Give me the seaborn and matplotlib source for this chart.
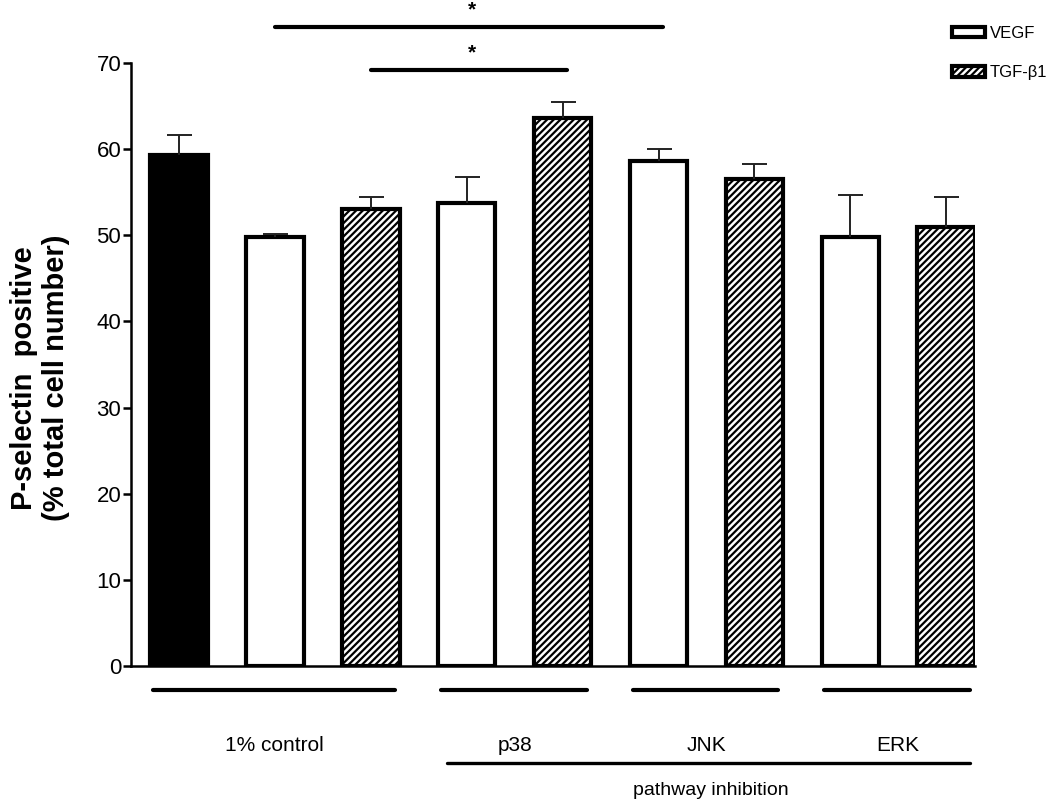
import numpy as np
import matplotlib
matplotlib.use("Agg")
import matplotlib.pyplot as plt
import seaborn as sns
from matplotlib.patches import Patch

sns.set_style("white")
plt.rcParams["font.family"] = ["Liberation Sans", "DejaVu Sans"]
plt.rcParams["hatch.linewidth"] = 1.6
for k in ["text.color", "axes.labelcolor", "xtick.color", "ytick.color"]:
    plt.rcParams[k] = "black"

# bar data (% P-selectin positive cells, mean and SEM)
conditions = ["control", "1% VEGF", "1% TGF-b1", "p38 VEGF", "p38 TGF-b1",
              "JNK VEGF", "JNK TGF-b1", "ERK VEGF", "ERK TGF-b1"]
means = [59.3, 49.8, 53.0, 53.8, 63.6, 58.6, 56.5, 49.8, 51.0]
sem = [2.3, 0.3, 1.4, 3.0, 1.9, 1.4, 1.8, 4.9, 3.4]
styles = ["black", "vegf", "tgf", "vegf", "tgf", "vegf", "tgf", "vegf", "tgf"]

groups = ["1% control", "p38", "JNK", "ERK"]
group_bars = [(0, 2), (3, 4), (5, 6), (7, 8)]
pathway_label = "pathway inhibition"
pathway_bars = (3, 8)

# significance brackets: (first bar, second bar, line height)
sig_pairs = [(1, 5, 74.2), (2, 4, 69.2)]

fig = plt.figure(figsize=(10.5, 8.06), dpi=100)
ax = fig.add_axes([131 / 1050, 1 - 666 / 806, (975 - 131) / 1050, (666 - 63) / 806])

sns.barplot(x=conditions, y=means, order=conditions, width=0.6, color="white",
            edgecolor="black", linewidth=3, errorbar=None, ax=ax, saturation=1)

for patch, st in zip(ax.patches, styles):
    if st == "black":
        patch.set_facecolor("black")
    elif st == "tgf":
        patch.set_facecolor("white")
        patch.set_hatch("/////")
    else:
        patch.set_facecolor("white")

x = np.arange(len(conditions))
eb = ax.errorbar(x, means, yerr=[np.zeros(len(sem)), sem], fmt="none", ecolor="#222222",
                 elinewidth=1.4, capsize=9, capthick=1.4, zorder=1)
# keep only the upper caps
eb.lines[1][0].set_visible(False)

ax.set_ylim(0, 70)
ax.set_xlim(-0.5, 8.3)
ax.set_yticks(range(0, 71, 10))
ax.tick_params(axis="y", labelsize=16, length=6, width=1.8, direction="out", left=True, pad=1)
ax.tick_params(axis="x", bottom=False, labelbottom=False)
ax.set_xlabel("")
for s in ["top", "right"]:
    ax.spines[s].set_visible(False)
for s in ["left", "bottom"]:
    ax.spines[s].set_linewidth(1.8)
    ax.spines[s].set_color("black")

# significance lines
for a, b, h in sig_pairs:
    ax.plot([a, b + 0.05], [h, h], color="black", lw=3, clip_on=False)
    ax.text((a + b) / 2 + 0.05, h + 0.9, "*", ha="center", va="bottom",
            fontsize=15, fontweight="bold")

# group annotations below the axis
for name, (a, b) in zip(groups, group_bars):
    ax.plot([a - 0.27, b + 0.25], [-2.8, -2.8], color="black", lw=3, clip_on=False)
    ax.text((a + b) / 2, -9.2, name, ha="center", va="center", fontsize=15)
a, b = pathway_bars
ax.plot([a - 0.21, b + 0.25], [-11.3, -11.3], color="black", lw=2.4, clip_on=False)
ax.text((a + b) / 2 + 0.05, -14.4, pathway_label, ha="center", va="center", fontsize=14)

fig.text(40 / 1050, 1 - 378 / 806, "P-selectin  positive\n(% total cell number)",
         rotation=90, ha="center", va="center", multialignment="center",
         fontsize=21, fontweight="bold", linespacing=1.2)

handles = [Patch(facecolor="white", edgecolor="black", linewidth=3, label="VEGF"),
           Patch(facecolor="white", edgecolor="black", linewidth=3, hatch="/////",
                 label="TGF-β1")]
fig.legend(handles=handles, loc="upper left", bbox_to_anchor=(952 / 1050, 1 - 26 / 806),
           frameon=False, fontsize=12, handlelength=2.0, handleheight=0.6,
           handletextpad=0.25, labelspacing=1.45, borderpad=0, borderaxespad=0)

fig.savefig("out.png", dpi=100, facecolor="white")
